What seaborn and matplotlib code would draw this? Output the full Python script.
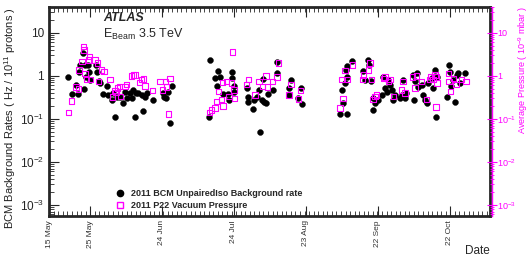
import numpy as np
import pandas as pd
import seaborn as sns
import matplotlib.pyplot as plt
from matplotlib.ticker import FixedLocator, LogLocator, NullFormatter
from matplotlib.lines import Line2D

# days counted from 1 May 2011
bcmDays = [16.0, 17.4, 19.2, 20.1, 20.4, 20.8, 22.2, 22.6, 22.9, 23.5, 24.3, 24.7, 25.0, 27.8, 27.5,
           28.75, 29.2, 30.5, 32.0, 32.6, 34.2, 34.7, 35.4, 36.4, 37.5, 38.9, 39.6, 40.3, 41.7, 42.4,
           43.0, 43.75, 44.2, 45.1, 46.5, 47.2, 47.9, 48.6, 51.1, 55.3, 55.8, 56.5, 57.6, 58.3, 59.0,
           75.0, 74.7, 78.5, 77.1, 77.8, 79.2, 80.5, 82.6, 83.0, 84.0, 84.0, 85.0, 85.1,
           90.3, 90.7, 91.0, 92.8, 93.3, 94.5, 95.4, 95.8, 96.5, 97.2, 97.5, 98.3, 99.3, 101.1,
           103.0, 102.8, 108.0, 108.75, 107.9, 111.8, 112.8, 113.2,
           129.2, 129.9, 130.3, 131.25, 131.5, 132.0, 132.0, 132.2, 134.4,
           141.0, 141.4, 138.9, 139.6, 142.0, 143.0, 143.0, 143.75, 145.1, 146.5, 147.2, 147.9,
           148.6, 149.3, 150.0, 150.7, 151.4, 152.1, 154.2, 154.9, 155.5, 156.25, 156.9, 159.5,
           160.0, 160.4, 161.1, 161.8, 163.2, 163.9, 164.6, 165.3, 166.0, 167.4, 168.0, 168.75,
           169.2, 169.7, 173.6, 174.7, 175.0, 175.4, 176.4, 177.1, 177.8, 178.5, 179.2, 181.25]
bcmRate = [0.93, 0.38, 0.62, 0.37, 1.26, 1.8, 3.4, 0.49, 1.8, 0.96, 1.8, 1.26, 0.81, 1.26, 1.8,
           0.74, 0.68, 0.37, 0.58, 0.36, 0.28, 0.40, 0.11, 0.33, 0.33, 0.23, 0.43, 0.30, 0.40, 0.30,
           0.47, 0.11, 0.40, 0.40, 0.36, 0.15, 0.33, 0.40, 0.28, 0.40, 0.33, 0.30, 0.43, 0.08, 0.57,
           2.35, 0.11, 1.33, 0.88, 0.58, 0.96, 0.37, 0.37, 0.27, 1.26, 0.88, 0.57, 0.41,
           0.52, 0.33, 0.25, 0.17, 0.27, 0.33, 0.47, 0.05, 0.28, 0.84, 0.25, 0.23, 0.38, 0.47,
           2.15, 1.19, 0.52, 0.78, 0.36, 0.30, 0.52, 0.22,
           0.13, 0.47, 0.23, 0.68, 1.38, 1.65, 0.13, 0.96, 2.23,
           2.35, 1.8, 1.33, 0.81, 0.74, 0.30, 0.16, 0.23, 0.28, 0.36, 0.96, 0.52,
           0.43, 0.81, 0.62, 0.47, 0.28, 0.36, 0.30, 0.36, 0.81, 0.30, 0.40, 1.05,
           0.28, 0.74, 1.19, 0.55, 0.62, 0.36, 0.28, 0.23, 0.68, 0.88, 0.52, 1.38,
           0.11, 0.96, 0.33, 1.8, 1.26, 0.57, 0.81, 0.24, 1.05, 1.19, 0.68, 1.19]

vacDays = [16.0, 17.4, 19.2, 20.3, 20.4, 21.7, 22.2, 22.5, 22.9, 23.6, 24.3, 24.7, 25.3, 27.1,
           28.0, 28.6, 29.9, 30.8, 33.3, 34.4, 35.4, 35.8, 36.4, 37.2, 37.8, 39.6, 40.3, 42.4,
           43.0, 43.75, 45.5, 46.5, 47.2, 47.9, 51.1, 54.2, 55.3, 56.5, 56.9, 57.6, 58.3,
           84.3, 74.7, 75.7, 77.1, 77.8, 78.5, 79.9, 80.5, 80.3, 81.95, 83.0, 84.0, 85.0, 85.1,
           90.3, 91.0, 93.75, 95.5, 96.9, 98.3, 98.9, 101.1, 103.0, 103.6, 108.0, 108.75, 111.8, 112.8,
           129.9, 129.2, 130.5, 131.25, 132.2, 134.4,
           138.6, 138.9, 141.0, 141.7, 142.4, 143.0, 143.75, 144.5, 147.2, 147.9, 149.3, 150.0,
           151.4, 155.5, 154.9, 156.25, 159.5, 160.4, 161.1, 163.2, 165.3, 166.4, 167.0, 168.0,
           168.75, 169.4, 169.7, 169.2, 174.3, 174.7, 175.3, 176.4, 177.5, 179.9, 181.7]
vacPressure = [0.14, 0.26, 0.55, 0.49, 1.38, 2.15, 4.8, 4.0, 1.15, 0.81, 2.35, 2.8, 0.81, 2.35,
               1.97, 0.74, 1.38, 1.26, 0.81, 0.32, 0.46, 0.41, 0.52, 0.57, 0.33, 0.57, 0.62, 1.0,
               1.05, 1.05, 0.70, 0.81, 0.84, 0.58, 0.46, 0.75, 0.47, 0.74, 0.55, 0.13, 0.88,
               3.55, 0.14, 0.16, 0.18, 0.25, 0.43, 0.28, 0.20, 0.70, 0.74, 0.33, 0.68, 0.47, 0.30,
               0.62, 0.81, 0.36, 0.74, 0.57, 1.0, 0.55, 0.74, 0.93, 1.97, 0.36, 0.62, 0.29, 0.46,
               0.81, 0.18, 0.30, 1.33, 0.81, 1.8,
               0.81, 1.05, 1.38, 1.97, 0.81, 0.28, 0.33, 0.36, 0.88, 0.93, 0.74, 0.81,
               0.33, 0.74, 0.47, 0.40, 0.93, 0.52, 1.0, 0.74, 0.28, 0.81, 0.96, 0.81,
               1.05, 0.93, 0.68, 0.19, 1.15, 0.74, 0.43, 0.88, 0.62, 0.81, 0.74]

tickDays = [8, 25, 55, 85, 115, 145, 175]
tickLabels = ['15 May', '25 May', '24 Jun', '24 Jul', '23 Aug', '22 Sep', '22 Oct']
yTickVals = [1e-3, 1e-2, 1e-1, 1, 10]
yTickLabels = ['10$^{-3}$', '10$^{-2}$', '10$^{-1}$', '1', '10']

dfBcm = pd.DataFrame({'day': bcmDays, 'rate': bcmRate})
dfVac = pd.DataFrame({'day': vacDays, 'pressure': vacPressure})

sns.set_style('ticks')
plt.rcParams['font.family'] = ['Liberation Sans', 'DejaVu Sans']
plt.rcParams['mathtext.fontset'] = 'custom'
plt.rcParams['mathtext.rm'] = 'Liberation Sans'

magenta = '#ff00ff'
fig = plt.figure(figsize=(5.29, 2.56), dpi=100)
ax = fig.add_axes([0.0926, 0.156, 0.8336, 0.817])

sns.scatterplot(data=dfBcm, x='day', y='rate', ax=ax, color='black', marker='o',
                s=18, edgecolor='black', linewidth=0.3, zorder=3, legend=False)
sns.scatterplot(data=dfVac, x='day', y='pressure', ax=ax, marker='s', s=15,
                facecolor='none', edgecolor=magenta, linewidth=0.8, zorder=4, legend=False)

ax.set_yscale('log')
ax.set_ylim(5.5e-4, 40)
ax.set_xlim(7.9, 191.7)

ax.set_yticks(yTickVals)
ax.set_yticklabels(yTickLabels)
ax.yaxis.set_minor_locator(LogLocator(base=10, subs=np.arange(2, 10)))
ax.yaxis.set_minor_formatter(NullFormatter())
ax.set_xticks(tickDays)
ax.set_xticklabels(tickLabels, rotation=90, fontsize=6, color='#333333')
ax.xaxis.set_minor_locator(FixedLocator(np.arange(8, 192, 1.9)))

ax.tick_params(axis='both', which='major', direction='in', length=7, width=0.8,
               top=True, right=True, labelsize=8.5)
ax.tick_params(axis='both', which='minor', direction='in', length=3.5, width=0.6,
               top=True, right=True)
ax.tick_params(axis='x', which='major', labelsize=6, pad=3)
for sp in ax.spines.values():
    sp.set_linewidth(2)

ax.set_xlabel('Date', loc='right', fontsize=8.5, labelpad=-2)
ax.set_ylabel('BCM Background Rates ( Hz / 10$^{11}$ protons )', loc='top',
              fontsize=8, color='#222222', labelpad=1)

ax2 = ax.twinx()
ax2.set_yscale('log')
ax2.set_ylim(ax.get_ylim())
ax2.set_yticks(yTickVals)
ax2.set_yticklabels(yTickLabels)
ax2.yaxis.set_minor_locator(LogLocator(base=10, subs=np.arange(2, 10)))
ax2.yaxis.set_minor_formatter(NullFormatter())
for name in ['top', 'bottom', 'left']:
    ax2.spines[name].set_visible(False)
ax2.spines['right'].set_position(('outward', 1.5))
ax2.spines['right'].set_color(magenta)
ax2.spines['right'].set_linewidth(1)
ax2.tick_params(axis='y', which='major', direction='inout', length=7, width=0.8,
                colors=magenta, labelsize=6.5, pad=0)
ax2.tick_params(axis='y', which='minor', direction='inout', length=3.5, width=0.6,
                colors=magenta)
ax2.set_ylabel('Average Pressure ( 10$^{-9}$ mbar )', loc='top', color=magenta,
               fontsize=6.5, labelpad=0)

ax.text(0.122, 0.945, 'ATLAS', transform=ax.transAxes, fontsize=9, fontweight='bold',
        fontstyle='italic', ha='left', va='center')
ax.text(0.122, 0.868, 'E$_{\\mathrm{Beam}}$ 3.5 TeV', transform=ax.transAxes, fontsize=9,
        ha='left', va='center')

handles = [Line2D([], [], marker='o', color='black', linestyle='none', markersize=4.5),
           Line2D([], [], marker='s', markerfacecolor='none', markeredgecolor=magenta,
                  linestyle='none', markersize=4.5)]
ax.legend(handles, ['2011 BCM UnpairedIso Background rate', '2011 P22 Vacuum Pressure'],
          loc='lower left', bbox_to_anchor=(0.13, -0.01), frameon=False,
          prop={'size': 6.5, 'weight': 'bold'}, handletextpad=0.6, labelspacing=0.35,
          handlelength=1.2)

fig.savefig('out.png', dpi=100)
